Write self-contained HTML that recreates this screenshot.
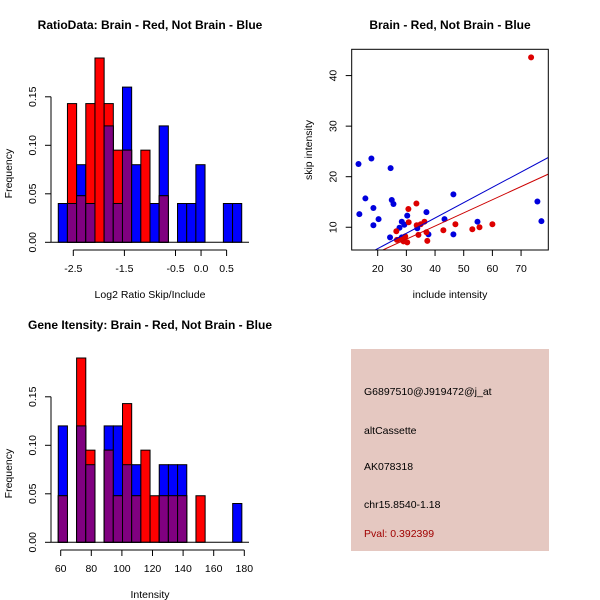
<!DOCTYPE html>
<html><head><meta charset="utf-8"><style>
body{margin:0;background:#fff}
svg{display:block;font-family:"Liberation Sans",sans-serif}
</style></head><body>
<svg id="c" width="600" height="600" xmlns="http://www.w3.org/2000/svg">
<rect width="600" height="600" fill="#fff"/>
<g id="p1"></g>
<g id="p2"></g>
<g id="p3"></g>
<g>
<rect x="351" y="349" width="198" height="202" fill="#e5c8c1"/>
<text x="364" y="395" font-size="10.5">G6897510@J919472@j_at</text>
<text x="364" y="434" font-size="10.5">altCassette</text>
<text x="364" y="470" font-size="10.5">AK078318</text>
<text x="364" y="508" font-size="10.5">chr15.8540-1.18</text>
<text x="364" y="537" font-size="10.5" fill="#a00000">Pval: 0.392399</text>
</g>
</svg>
<script>
// Ratio histogram data
const ratioBinStart = -2.794, ratioBinWidth = 0.1795;
const ratioBlue = [0.04,0.04,0.08,0.04,0,0.12,0.04,0.16,0.08,0,0.04,0.12,0,0.04,0.04,0.08,0,0,0.04,0.04];
const ratioRed = [0,0.143,0.048,0.143,0.19,0.143,0.095,0.095,0,0.095,0,0.048,0,0,0,0,0,0,0,0];
const ratioTicks = [-2.5,-1.5,-0.5,0.0,0.5];
const ratioTickLabels = ["-2.5","-1.5","-0.5","0.0","0.5"];
// Intensity histogram data
const intBinStart = 58.4, intBinWidth = 6.0;
const intBlue = [0.12,0,0.12,0.08,0,0.12,0.12,0.08,0.08,0,0,0.08,0.08,0.08,0,0,0,0,0,0.04];
const intRed = [0.048,0,0.19,0.095,0,0.095,0.048,0.143,0.048,0.095,0.048,0.048,0.048,0.048,0,0.048,0,0,0,0];
const intTicks = [60,80,100,120,140,160,180];
const freqTicks = [0,0.05,0.10,0.15];
const freqTickLabels = ["0.00","0.05","0.10","0.15"];
// Scatter data
const blueX = [13.3,17.8,24.5,15.7,13.6,18.5,18.5,20.3,24.9,25.5,24.3,27.6,28.4,29.3,30.3,28.4,33.8,37.0,37.7,43.3,46.4,46.4,54.8,75.7,77.1];
const blueY = [22.5,23.6,21.7,15.7,12.6,13.8,10.4,11.6,15.4,14.6,8.0,9.9,11.1,10.5,12.3,8.0,9.8,13.0,8.6,11.6,16.5,8.6,11.1,15.1,11.2];
const redX = [73.5,30.7,33.5,30.8,33.6,35.0,36.3,26.5,26.7,29.0,30.3,29.6,34.2,37.0,37.3,42.9,47.1,53.0,55.5,60.0,28.4];
const redY = [43.6,13.6,14.7,11.0,10.4,10.6,11.1,9.2,7.5,7.2,7.0,8.2,8.5,9.0,7.3,9.4,10.6,9.6,10.0,10.6,7.5];
const blueFit = [-0.29,0.303];
const redFit = [-0.16,0.26];
const scatXTicks = [20,30,40,50,60,70];
const scatYTicks = [10,20,30,40];

const NS="http://www.w3.org/2000/svg";
function mk(parent,tag,attrs,text){const e=document.createElementNS(NS,tag);for(const k in attrs)e.setAttribute(k,attrs[k]);if(text!==undefined)e.textContent=text;parent.appendChild(e);return e;}

function hist(g,y0,title,xlabel,binStart,binWidth,blue,red,xt,xtl,xscale){
  const base=y0+242.3, pxu=970;
  const yS=v=>base-v*pxu;
  const t=mk(g,'text',{x:150,y:y0+29,'font-size':12,'font-weight':'bold','text-anchor':'middle'},title);
  
  for(let i=0;i<blue.length;i++){
    const x1=xscale(binStart+i*binWidth),x2=xscale(binStart+(i+1)*binWidth);
    const b=blue[i],r=red[i],m=Math.min(b,r);
    if(b>0){const e=mk(g,'rect',{x:x1,y:yS(b),width:x2-x1,height:b*pxu,fill:'#0000ff',stroke:'#000','stroke-width':1});
      }
    if(r>0){const e=mk(g,'rect',{x:x1,y:yS(r),width:x2-x1,height:r*pxu,fill:'#ff0000',stroke:'#000','stroke-width':1});
      }
    if(m>0){const e=mk(g,'rect',{x:x1,y:yS(m),width:x2-x1,height:m*pxu,fill:'#800080',stroke:'#000','stroke-width':1});
      }
  }
  mk(g,'line',{x1:51,x2:51,y1:yS(0),y2:yS(0.15),stroke:'#000'});
  freqTicks.forEach((v,i)=>{const y=yS(v);mk(g,'line',{x1:45,x2:51,y1:y,y2:y,stroke:'#000'});
    const e=mk(g,'text',{x:0,y:0,'font-size':10.5,'text-anchor':'middle',transform:`translate(36,${y}) rotate(-90)`},freqTickLabels[i]);
    });
  const yl=mk(g,'text',{x:0,y:0,'font-size':10.5,'text-anchor':'middle',transform:`translate(12,${yS(0.075)+4}) rotate(-90)`},'Frequency');
  
  mk(g,'line',{x1:51,x2:249,y1:base,y2:base,stroke:'#000'});
  const ay=y0+250;
  mk(g,'line',{x1:xscale(xt[0]),x2:xscale(xt[xt.length-1]),y1:ay,y2:ay,stroke:'#000'});
  xt.forEach((v,i)=>{const x=xscale(v);mk(g,'line',{x1:x,x2:x,y1:ay,y2:ay+6,stroke:'#000'});
    const e=mk(g,'text',{x:x,y:ay+22,'font-size':10.5,'text-anchor':'middle'},xtl[i]);
    });
  const xl=mk(g,'text',{x:150,y:y0+298,'font-size':10.5,'text-anchor':'middle'},xlabel);
  
}
hist(document.getElementById('p1'),0,'RatioData: Brain - Red, Not Brain - Blue','Log2 Ratio Skip/Include',
  ratioBinStart,ratioBinWidth,ratioBlue,ratioRed,ratioTicks,ratioTickLabels,v=>73.3+(v+2.5)*51.1);
hist(document.getElementById('p3'),300,'Gene Itensity: Brain - Red, Not Brain - Blue','Intensity',
  intBinStart,intBinWidth,intBlue,intRed,intTicks,intTicks.map(String),v=>60.7+(v-60)*1.53);

(function(){
  const g=document.getElementById('p2');
  const L=351.7,R=548.3,T=49.3,B=250;
  const xmin=10.93,xmax=79.5,ymin=5.5,ymax=45.2;
  const xs=v=>L+(v-xmin)/(xmax-xmin)*(R-L), ys=v=>B-(v-ymin)/(ymax-ymin)*(B-T);
  const t=mk(g,'text',{x:450,y:29,'font-size':12,'font-weight':'bold','text-anchor':'middle'},'Brain - Red, Not Brain - Blue');
  
  mk(g,'defs',{}).innerHTML='<clipPath id="cp"><rect x="351.7" y="49.3" width="196.6" height="200.7"/></clipPath>';
  const cg=mk(g,'g',{'clip-path':'url(#cp)'});
  blueX.forEach((x,i)=>{const e=mk(cg,'circle',{cx:xs(x),cy:ys(blueY[i]),r:3,fill:'#0000dd'});
    });
  redX.forEach((x,i)=>{const e=mk(cg,'circle',{cx:xs(x),cy:ys(redY[i]),r:3,fill:'#dd0000'});
    });
  [[blueFit,'#0000cc','fit-line-blue'],[redFit,'#cc0000','fit-line-red']].forEach(([f,c,n])=>{
    const e=mk(cg,'line',{x1:xs(xmin),y1:ys(f[0]+f[1]*xmin),x2:xs(xmax),y2:ys(f[0]+f[1]*xmax),stroke:c,'stroke-width':1});
    });
  mk(g,'rect',{x:L,y:T,width:R-L,height:B-T,fill:'none',stroke:'#000'});
  scatXTicks.forEach(v=>{const x=xs(v);mk(g,'line',{x1:x,x2:x,y1:B,y2:B+6,stroke:'#000'});
    const e=mk(g,'text',{x:x,y:B+22,'font-size':10.5,'text-anchor':'middle'},String(v));
    });
  scatYTicks.forEach(v=>{const y=ys(v);mk(g,'line',{x1:L-6,x2:L,y1:y,y2:y,stroke:'#000'});
    const e=mk(g,'text',{x:0,y:0,'font-size':10.5,'text-anchor':'middle',transform:`translate(${L-15},${y}) rotate(-90)`},String(v));
    });
  const xl=mk(g,'text',{x:450,y:298,'font-size':10.5,'text-anchor':'middle'},'include intensity');
  
  const yl=mk(g,'text',{x:0,y:0,'font-size':10.5,'text-anchor':'middle',transform:`translate(312,150) rotate(-90)`},'skip intensity');
  
})();
</script>
</body></html>
